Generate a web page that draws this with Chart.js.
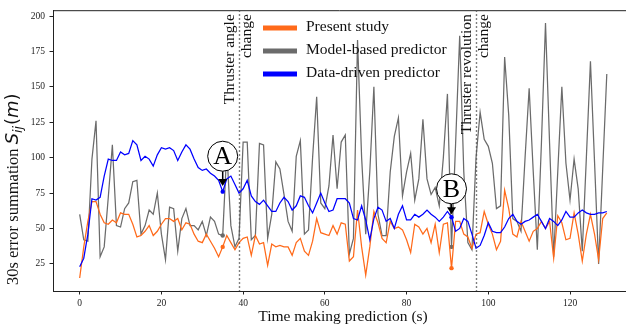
<!DOCTYPE html>
<html>
<head>
<meta charset="utf-8">
<script src="https://cdn.jsdelivr.net/npm/chart.js@4"></script>
<style>
  html, body { margin: 0; padding: 0; background: #fff; overflow: hidden; }
  canvas { display: block; }
</style>
</head>
<body>
<canvas id="errorChart" width="626" height="332"></canvas>
<script>
// time of each prediction (s)
const seconds = [
  0, 1, 2, 3, 4, 5, 6, 7, 8, 9, 10, 11, 12, 13, 14, 15, 16, 17, 18, 19,
  20, 21, 22, 23, 24, 25, 26, 27, 28, 29, 30, 31, 32, 33, 34, 35, 36, 37, 38, 39,
  40, 41, 42, 43, 44, 45, 46, 47, 48, 49, 50, 51, 52, 53, 54, 55, 56, 57, 58, 59,
  60, 61, 62, 63, 64, 65, 66, 67, 68, 69, 70, 71, 72, 73, 74, 75, 76, 77, 78, 79,
  80, 81, 82, 83, 84, 85, 86, 87, 88, 89, 90, 91, 92, 93, 94, 95, 96, 97, 98, 99,
  100, 101, 102, 103, 104, 105, 106, 107, 108, 109, 110, 111, 112, 113, 114, 115, 116, 117, 118, 119,
  120, 121, 122, 123, 124, 125, 126, 127, 128, 129
];

// 30 s error summation S_ij (m)
const presentStudy = [
  15, 37, 55, 69, 69, 60, 54, 53, 56, 54, 61, 60, 60, 53, 44, 45, 48, 52, 45, 48,
  53, 57, 57, 55, 57, 49, 54, 53, 46, 41, 40, 46, 41, 36, 30, 37, 45, 40, 35, 40,
  43, 44, 31, 45, 39, 40, 24, 39, 37, 38, 37, 37, 31, 40, 43, 34, 31, 41, 57, 47,
  46, 45, 52, 46, 54, 53, 27, 30, 63, 37, 17, 37, 62, 54, 43, 40, 55, 50, 51, 49,
  42, 33, 53, 51, 46, 50, 40, 53, 33, 53, 54, 22, 55, 55, 46, 44, 36, 46, 47, 62,
  53, 46, 35, 41, 77, 64, 46, 44, 55, 48, 41, 48, 50, 55, 50, 55, 29, 59, 54, 42,
  43, 61, 46, 27, 46, 60, 46, 28, 57, 61
];
const modelBased = [
  60, 42, 41, 99, 126, 30, 37, 72, 109, 52, 51, 64, 68, 83, 84, 46, 52, 63, 60, 75,
  46, 28, 65, 64, 34, 57, 64, 52, 52, 49, 55, 45, 58, 55, 46, 45, 105, 52, 37, 43,
  111, 111, 42, 45, 110, 109, 43, 60, 97, 92, 74, 55, 48, 101, 112, 46, 49, 100, 143, 68,
  64, 80, 116, 78, 111, 116, 32, 43, 183, 100, 46, 90, 150, 60, 45, 45, 90, 115, 128, 73,
  90, 103, 70, 85, 127, 85, 74, 79, 66, 100, 145, 37, 110, 186, 90, 40, 35, 100, 132, 113,
  108, 96, 64, 66, 171, 130, 57, 55, 48, 100, 149, 90, 35, 110, 195, 110, 30, 90, 150, 96,
  70, 99, 78, 34, 100, 168, 97, 25, 92, 159
];
const dataDriven = [
  23, 29, 46, 71, 70, 72, 87, 99, 98, 98, 104, 102, 103, 112, 109, 98, 101, 99, 94, 102,
  107, 106, 107, 105, 98, 104, 109, 106, 99, 93, 91, 92, 89, 87, 84, 76, 85, 87, 81, 75,
  78, 84, 73, 69, 67, 70, 66, 62, 62, 68, 72, 69, 63, 66, 73, 72, 66, 61, 68, 75,
  68, 62, 63, 71, 71, 71, 68, 57, 56, 66, 56, 42, 57, 65, 63, 55, 57, 50, 60, 66,
  56, 56, 60, 58, 60, 63, 60, 58, 55, 58, 62, 58, 48, 50, 57, 55, 46, 36, 38, 45,
  54, 48, 47, 47, 51, 57, 60, 55, 53, 55, 56, 58, 60, 55, 50, 57, 55, 52, 56, 62,
  58, 58, 61, 63, 61, 60, 60, 61, 61, 62
];

const xTicks = [0, 20, 40, 60, 80, 100, 120];
const yTicks = [25, 50, 75, 100, 125, 150, 175, 200];

// operating changes during the run
const eventTimes = [39, 97];
const eventLabels = [['Thruster angle', 'change'], ['Thruster revolution', 'change']];

// highlighted samples and their callouts (text position / arrow tip in data units)
const callouts = [
  { name: 'A', idx: 35, textY: 101, tipY: 80 },
  { name: 'B', idx: 91, textY: 78, tipY: 60 }
];
const markedIdx = callouts.map(c => c.idx);

const ORANGE = '#ff6a1a';
const GRAY = '#6b6b6b';
const BLUE = '#0000ff';
const INK = '#222';
const serif = '"Liberation Serif", "Times New Roman", serif';
const mathFont = '"DejaVu Sans", sans-serif';

const toPoints = ys => ys.map((v, i) => ({ x: seconds[i], y: v }));
const markRadius = c => markedIdx.includes(c.dataIndex) ? 2.2 : 0;

const decorations = {
  id: 'decorations',
  afterDraw(chart) {
    const { ctx, chartArea: a, scales: { x, y } } = chart;
    ctx.save();

    // top frame line
    ctx.strokeStyle = INK;
    ctx.lineWidth = 1;
    ctx.beginPath();
    ctx.moveTo(a.left, a.top + 0.5);
    ctx.lineTo(a.right, a.top + 0.5);
    ctx.stroke();

    // dotted event lines with rotated captions
    ctx.setLineDash([1.5, 2.5]);
    ctx.strokeStyle = '#555';
    ctx.lineWidth = 1.4;
    eventTimes.forEach(t => {
      const px = Math.round(x.getPixelForValue(t)) + 0.5;
      ctx.beginPath();
      ctx.moveTo(px, a.top);
      ctx.lineTo(px, a.bottom);
      ctx.stroke();
    });
    ctx.setLineDash([]);
    ctx.fillStyle = '#111';
    ctx.font = '15.5px ' + serif;
    ctx.textAlign = 'right';
    ctx.textBaseline = 'middle';
    eventTimes.forEach((t, k) => {
      const px = x.getPixelForValue(t);
      eventLabels[k].forEach((line, j) => {
        ctx.save();
        ctx.translate(px - 9 + j * 17, a.top + 4);
        ctx.rotate(-Math.PI / 2);
        ctx.fillText(line, 0, 0);
        ctx.restore();
      });
    });

    // legend
    ctx.textAlign = 'left';
    chart.data.datasets.forEach((ds, k) => {
      const ly = 27 + 23 * k;
      ctx.strokeStyle = ds.borderColor;
      ctx.lineWidth = 5;
      ctx.beginPath();
      ctx.moveTo(263, ly + 1);
      ctx.lineTo(297, ly + 1);
      ctx.stroke();
      ctx.fillStyle = '#111';
      ctx.fillText(ds.label, 306, ly);
    });

    // A / B callouts
    callouts.forEach(c => {
      const px = x.getPixelForValue(seconds[c.idx]);
      const cy = y.getPixelForValue(c.textY);
      const tip = y.getPixelForValue(c.tipY);
      const r = 15;
      ctx.strokeStyle = '#000';
      ctx.fillStyle = '#000';
      ctx.lineWidth = 1.5;
      ctx.beginPath();
      ctx.moveTo(px, cy + r);
      ctx.lineTo(px, tip - 6);
      ctx.stroke();
      ctx.beginPath();
      ctx.moveTo(px - 4.5, tip - 7);
      ctx.lineTo(px + 4.5, tip - 7);
      ctx.lineTo(px, tip);
      ctx.closePath();
      ctx.fill();
      ctx.beginPath();
      ctx.arc(px, cy, r, 0, Math.PI * 2);
      ctx.fillStyle = '#fff';
      ctx.fill();
      ctx.lineWidth = 1;
      ctx.stroke();
      ctx.fillStyle = '#000';
      ctx.font = '26px ' + serif;
      ctx.textAlign = 'center';
      ctx.textBaseline = 'middle';
      ctx.fillText(c.name, px, cy + 1);
    });

    // axis titles
    ctx.fillStyle = '#111';
    ctx.textAlign = 'center';
    ctx.textBaseline = 'alphabetic';
    ctx.font = '15.5px ' + serif;
    ctx.fillText('Time making prediction (s)', 343, 321);

    ctx.save();
    ctx.translate(18, 285);
    ctx.rotate(-Math.PI / 2);
    ctx.textAlign = 'left';
    let cx = 0;
    const part = (txt, font, dy) => {
      ctx.font = font;
      ctx.fillText(txt, cx, dy || 0);
      cx += ctx.measureText(txt).width;
    };
    part('30s error summation ', '16.5px ' + serif);
    part('S', 'italic 18px ' + mathFont);
    part('ij', 'italic 12.5px ' + mathFont, 4);
    cx += 1;
    part('(', '18px ' + mathFont);
    part('m', 'italic 18px ' + mathFont);
    part(')', '18px ' + mathFont);
    ctx.restore();

    ctx.restore();
  }
};

const tickFont = { family: serif, size: 9.5 };

new Chart(document.getElementById('errorChart'), {
  type: 'line',
  data: {
    datasets: [
      { label: 'Present study', data: toPoints(presentStudy), borderColor: ORANGE, backgroundColor: ORANGE, order: 2 },
      { label: 'Model-based predictor', data: toPoints(modelBased), borderColor: GRAY, backgroundColor: GRAY, order: 3 },
      { label: 'Data-driven predictor', data: toPoints(dataDriven), borderColor: BLUE, backgroundColor: BLUE, order: 1 }
    ]
  },
  options: {
    responsive: false,
    animation: false,
    events: [],
    layout: { padding: { top: 4, right: 0, left: 0, bottom: 0 } },
    elements: {
      line: { borderWidth: 1.25, tension: 0, fill: false },
      point: { radius: markRadius, hoverRadius: 0, borderWidth: 0 }
    },
    plugins: { legend: { display: false }, tooltip: { enabled: false } },
    scales: {
      x: {
        type: 'linear',
        min: -6.53,
        max: 133.7,
        afterBuildTicks: s => { s.ticks = xTicks.map(v => ({ value: v })); },
        afterFit: s => { s.height = 41; },
        grid: { drawOnChartArea: false, drawTicks: true, tickLength: 3.5, tickColor: INK },
        border: { display: true, color: INK, width: 1 },
        ticks: { font: tickFont, color: INK, padding: 3, maxRotation: 0 }
      },
      y: {
        min: 5.85,
        max: 204.1,
        afterBuildTicks: s => { s.ticks = yTicks.map(v => ({ value: v })); },
        afterFit: s => { s.width = 53; },
        grid: { drawOnChartArea: false, drawTicks: true, tickLength: 3.5, tickColor: INK },
        border: { display: true, color: INK, width: 1 },
        ticks: { font: tickFont, color: INK, padding: 4.5 }
      }
    }
  },
  plugins: [decorations]
});
</script>
</body>
</html>
